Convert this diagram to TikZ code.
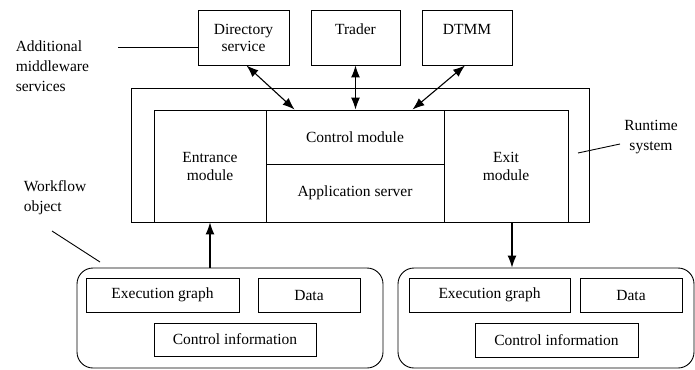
\documentclass[tikz,border=0pt]{standalone}
\usepackage{fontspec}
\setmainfont{Liberation Serif}
\newfontfamily\diagfont{Liberation Serif}
\usetikzlibrary{positioning,arrows.meta}

\begin{document}
\begin{tikzpicture}[x=1pt, y=-1pt, line width=0.9pt, every node/.style={font=\diagfont\fontsize{15.5}{17}\selectfont}]
\tikzstyle{box}=[draw, rectangle, align=center, inner sep=0pt]
\tikzstyle{wfobj}=[draw, rectangle, rounded corners=16pt, inner sep=0pt]
\tikzstyle{note}=[font=\diagfont\fontsize{15.5}{20}\selectfont]
\tikzstyle{link}=[line width=1.1pt, {Latex[length=12pt,width=9pt]}-{Latex[length=12pt,width=9pt]}]
\tikzstyle{flow}=[line width=1.1pt, -{Latex[length=12pt,width=9pt]}]
\useasboundingbox (0,0) rectangle (695,369);
% middleware services
\node[box, minimum width=91pt, minimum height=55pt] (dir) at (243.5,37.5) {Directory\\service};
\node[box, minimum width=89pt, minimum height=55pt] (trader) at (355.5,37.5) {Trader\\\mbox{}};
\node[box, minimum width=90pt, minimum height=55pt] (dtmm) at (467,37.5) {DTMM\\\mbox{}};
% runtime system
\node[box, minimum width=458pt, minimum height=134pt] (rts) at (360,155) {};
\node[box, minimum width=112pt, minimum height=112pt] (entr) at (210,166) {Entrance\\[1pt]module};
\node[box, minimum width=178pt, minimum height=54pt] (ctrl) at (355,137) {Control module};
\node[box, minimum width=178pt, minimum height=58pt] (app) at (355,193) {Application server};
\node[box, minimum width=124pt, minimum height=112pt] (exit) at (506,166) {Exit\\[1pt]module};
% workflow objects
\node[wfobj, minimum width=306pt, minimum height=100pt] (wfl) at (230,318) {};
\node[box, minimum width=153pt, minimum height=34pt] (execl) at (162.5,295) {Execution graph};
\node[box, minimum width=102pt, minimum height=34pt] (datal) at (309,295) {Data};
\node[box, minimum width=162pt, minimum height=33pt] (cinfol) at (235,339.5) {Control information};
\node[wfobj, minimum width=296pt, minimum height=100pt] (wfr) at (546,318) {};
\node[box, minimum width=161pt, minimum height=34pt] (execr) at (489.5,295) {Execution graph};
\node[box, minimum width=102pt, minimum height=34pt] (datar) at (631,295) {Data};
\node[box, minimum width=163pt, minimum height=34pt] (cinfor) at (556.5,340) {Control information};
% labels
\node[note, align=left, anchor=west] (addtxt) at (12,66) {Additional\\middleware\\services};
\node[note, align=center] (rttxt) at (651,137) {Runtime\\system};
\node[note, align=left, anchor=west] (wftxt) at (20,198) {Workflow\\object};
\coordinate (addl) at (118,47);
\coordinate (rt1) at (578,153);
\coordinate (rt2) at (620,144);
\coordinate (wo1) at (52,231);
\coordinate (wo2) at (100,262);
\draw (addl) -- (addl -| dir.west);
\draw (rt1) -- (rt2);
\draw (wo1) -- (wo2);
% connectors
\draw[link] ([xshift=3pt]dir.south) -- ([xshift=29pt]ctrl.north west);
\draw[link] (trader.south) -- (trader.south |- ctrl.north);
\draw[link] ([xshift=-2pt]dtmm.south) -- ([xshift=-32pt]ctrl.north east);
\draw[flow] (entr.south |- wfl.north) -- (entr.south);
\draw[flow] ([xshift=6pt]exit.south) -- ([xshift=6pt]exit.south |- wfr.north);
\end{tikzpicture}
\end{document}
